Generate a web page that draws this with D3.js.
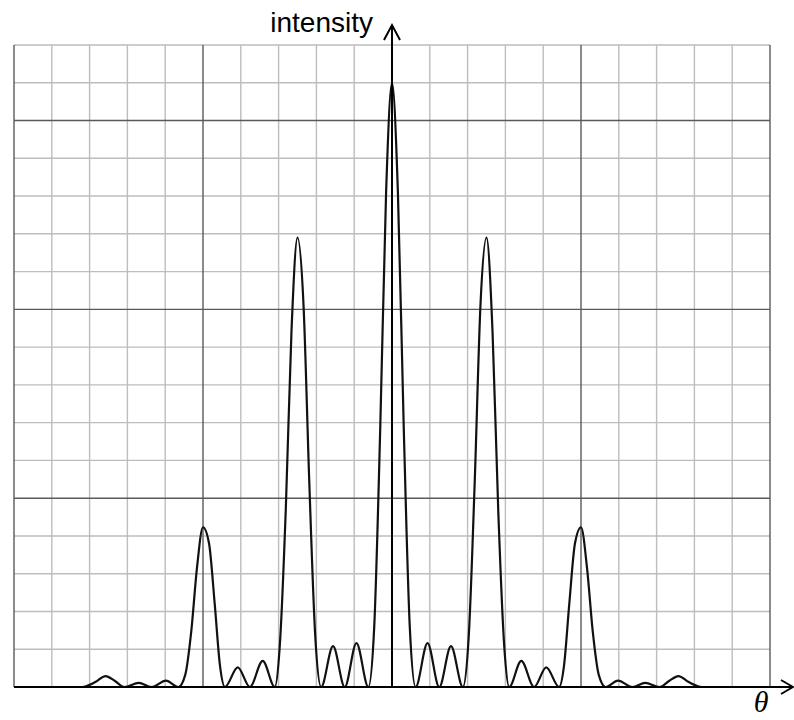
<!DOCTYPE html>
<html lang="en">
<head>
    <meta charset="UTF-8">
    <title>intensity</title>
    <script src="https://d3js.org/d3.v7.min.js"></script>
    <style>
    body {
        margin: 0;
        background: #fff;
    }
    svg {
        display: block;
    }
    .minor {
        stroke: #bdbdbd;
        stroke-width: 1.4;
    }
    .major {
        stroke: #5a5a5a;
        stroke-width: 1.4;
    }
    .axis {
        stroke: #000;
        stroke-width: 2;
        fill: none;
    }
    .curve {
        stroke: #111;
        stroke-width: 2.2;
        fill: none;
    }
    </style>
</head>
<body>
    <script>
    // grid cells (theta units) and intensity units
    const xCells = d3.range(-10, 11)
    const yCells = d3.range(0, 18)

    // intensity curve, in grid units
    const theta = [
        -10, -8.2, -7.85, -7.58, -7.33, -7.08, -6.7, -6.36, -5.98, -5.65,
        -5.47, -5.31, -5.16, -5.0, -4.84, -4.69, -4.55, -4.42,
        -4.08, -3.76, -3.42, -3.1,
        -2.97, -2.81, -2.66, -2.5, -2.34, -2.19, -2.03, -1.875,
        -1.56, -1.25, -0.94, -0.625,
        -0.47, -0.3125, -0.156, 0, 0.156, 0.3125, 0.47, 0.625,
        0.94, 1.25, 1.56, 1.875,
        2.03, 2.19, 2.34, 2.5, 2.66, 2.81, 2.97, 3.1,
        3.42, 3.76, 4.08, 4.42,
        4.55, 4.69, 4.84, 5.0, 5.16, 5.31, 5.47, 5.65,
        5.98, 6.36, 6.7, 7.08, 7.33, 7.58, 7.85, 8.2, 10
    ]
    const intensity = [
        0, 0, 0.13, 0.29, 0.16, 0, 0.11, 0, 0.17, 0,
        0.32, 1.48, 3.15, 4.23, 3.8, 2.2, 0.56, 0,
        0.52, 0, 0.69, 0,
        1.07, 4.7, 9.4, 11.9, 10.1, 5.48, 1.34, 0,
        1.08, 0, 1.16, 0,
        1.6, 6.8, 13.1, 16, 13.1, 6.8, 1.6, 0,
        1.16, 0, 1.08, 0,
        1.34, 5.48, 10.1, 11.9, 9.4, 4.7, 1.07, 0,
        0.69, 0, 0.52, 0,
        0.56, 2.2, 3.8, 4.23, 3.15, 1.48, 0.32, 0,
        0.17, 0, 0.11, 0, 0.16, 0.29, 0.13, 0, 0
    ]

    const width = 794
    const height = 720
    const svg = d3.select("body").append("svg")
        .attr("width", width)
        .attr("height", height)

    const x = d3.scaleLinear().domain([-10, 10]).range([14, 770])
    const y = d3.scaleLinear().domain([0, 17]).range([687, 45])

    const grid = svg.append("g")
    // light lines first, darker ones every 5 cells on top
    grid.selectAll(".vminor").data(xCells.filter(d => d % 5 !== 0)).enter()
        .append("line").attr("class", "minor")
        .attr("x1", d => x(d)).attr("x2", d => x(d))
        .attr("y1", y(0)).attr("y2", y(17))
    grid.selectAll(".hminor").data(yCells.filter(d => d % 5 !== 0)).enter()
        .append("line").attr("class", "minor")
        .attr("y1", d => y(d)).attr("y2", d => y(d))
        .attr("x1", x(-10)).attr("x2", x(10))
    grid.selectAll(".vmajor").data(xCells.filter(d => d % 5 === 0)).enter()
        .append("line").attr("class", "major")
        .attr("x1", d => x(d)).attr("x2", d => x(d))
        .attr("y1", y(0)).attr("y2", y(17))
    grid.selectAll(".hmajor").data(yCells.filter(d => d % 5 === 0)).enter()
        .append("line").attr("class", "major")
        .attr("y1", d => y(d)).attr("y2", d => y(d))
        .attr("x1", x(-10)).attr("x2", x(10))

    const points = theta.map((t, i) => [t, intensity[i]])
    const line = d3.line()
        .x(d => x(d[0]))
        .y(d => y(d[1]))
        .curve(d3.curveMonotoneX)

    svg.append("path")
        .datum(points)
        .attr("class", "curve")
        .attr("d", line)

    // axes with open arrow heads
    svg.append("line").attr("class", "axis")
        .attr("x1", x(-10)).attr("x2", 793)
        .attr("y1", y(0)).attr("y2", y(0))
    svg.append("path").attr("class", "axis")
        .attr("d", `M781,${y(0) - 7}L793,${y(0)}L781,${y(0) + 7}`)
    svg.append("line").attr("class", "axis")
        .attr("x1", x(0)).attr("x2", x(0))
        .attr("y1", y(0)).attr("y2", 25)
    svg.append("path").attr("class", "axis")
        .attr("d", `M${x(0) - 8},40L${x(0)},25L${x(0) + 8},40`)

    svg.append("text")
        .attr("x", 373).attr("y", 32)
        .attr("text-anchor", "end")
        .style("font-family", "Liberation Sans, Arial, sans-serif")
        .style("font-size", "28px")
        .text("intensity")

    svg.append("text")
        .attr("x", 761).attr("y", 712)
        .attr("text-anchor", "middle")
        .style("font-family", "Liberation Serif, Times New Roman, serif")
        .style("font-style", "italic")
        .style("font-size", "30px")
        .text("θ")
    </script>
</body>
</html>
